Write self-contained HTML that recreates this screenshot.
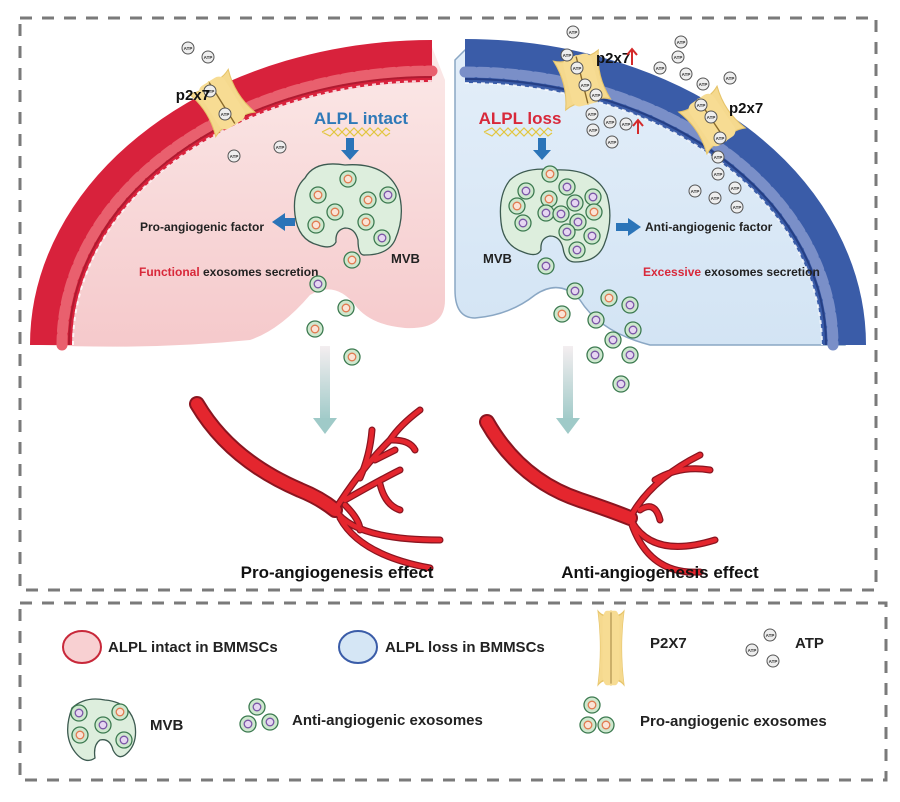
<!DOCTYPE html>
<html><head><meta charset="utf-8"><style>
html,body{margin:0;padding:0;background:#fff}
svg{display:block}
text{font-family:"Liberation Sans",Arial,sans-serif}
</style></head><body>
<svg width="900" height="802" viewBox="0 0 900 802" xmlns="http://www.w3.org/2000/svg">
<defs>
<linearGradient id="pink" x1="0" y1="0" x2="0" y2="1"><stop offset="0" stop-color="#fbe9e8"/><stop offset="1" stop-color="#f5c9cb"/></linearGradient>
<linearGradient id="blue" x1="0" y1="0" x2="0" y2="1"><stop offset="0" stop-color="#e3eef9"/><stop offset="1" stop-color="#d3e4f4"/></linearGradient>
<linearGradient id="arr" x1="0" y1="0" x2="0" y2="1"><stop offset="0" stop-color="#f4eef0"/><stop offset="1" stop-color="#9fcac8"/></linearGradient>
<g id="atp"><circle r="6" fill="#eee" stroke="#555" stroke-width="1"/><text x="0" y="1.8" font-size="4.5" font-weight="bold" text-anchor="middle" fill="#333">ATP</text></g>
<g id="pro"><circle r="8" fill="#cfe8cf" stroke="#3c7a50" stroke-width="1.3"/><circle r="3.8" fill="#fbe3d6" stroke="#e07a50" stroke-width="1.3"/></g>
<g id="anti"><circle r="8" fill="#cfe8cf" stroke="#3c7a50" stroke-width="1.3"/><circle r="3.8" fill="#e6d6f2" stroke="#7a55a5" stroke-width="1.3"/></g>
<g id="ch">
<path d="M-22,-24 Q-10,-18 0,-24 Q10,-18 22,-24 Q14,0 22,24 Q10,18 0,24 Q-10,18 -22,24 Q-14,0 -22,-24Z" fill="#f5d98e" stroke="#e6c46a" stroke-width="1"/>
<rect x="-14" y="-24" width="28" height="48" rx="7" fill="#f7dc93"/>
<line x1="0" y1="-23" x2="0" y2="23" stroke="#8a6a2a" stroke-width="1.3"/>
</g>
</defs>

<rect x="20" y="18" width="856" height="572" fill="none" stroke="#7a7a7a" stroke-width="3" stroke-dasharray="12,10"/>
<rect x="20" y="603" width="866" height="177" fill="none" stroke="#7a7a7a" stroke-width="3" stroke-dasharray="12,10"/>

<path d="M40,345 A400 298 0 0 1 432,47 L445,80 L445,300 Q445,330 405,328 Q370,325 355,305 Q335,280 310,295 Q280,330 250,340 Q150,350 40,345Z" fill="url(#pink)"/>
<path d="M51,345 A381 284 0 0 1 432,61" fill="none" stroke="#d8223c" stroke-width="42"/>
<path d="M62,345 A370 274 0 0 1 432,71" fill="none" stroke="#e9606e" stroke-width="11" stroke-dasharray="9,5" stroke-linecap="round"/>
<path d="M69,345 A363 268 0 0 1 432,77" fill="none" stroke="#b01a30" stroke-width="2"/>
<path d="M73,345 A359 264 0 0 1 432,81" fill="none" stroke="#ffffff" stroke-width="2" stroke-dasharray="4,4" opacity=".8"/>

<path d="M455,60 L465,50 A390 295 0 0 1 845,345 L650,345 Q600,332 580,300 Q560,278 535,295 Q510,315 475,318 Q455,318 455,290Z" fill="url(#blue)" stroke="#8aa7c4" stroke-width="1.5"/>
<path d="M465,61 A379 284 0 0 1 844,345" fill="none" stroke="#3a5ca8" stroke-width="44"/>
<path d="M465,72 A368 273 0 0 1 833,345" fill="none" stroke="#7a8fc8" stroke-width="11" stroke-dasharray="9,5" stroke-linecap="round"/>
<path d="M465,79 A361 266 0 0 1 826,345" fill="none" stroke="#253f85" stroke-width="2"/>
<path d="M465,83 A357 262 0 0 1 822,345" fill="none" stroke="#fff" stroke-width="2" stroke-dasharray="4,4" opacity=".8"/>

<use href="#ch" transform="translate(222,103) rotate(-32) scale(1.05)"/>
<use href="#ch" transform="translate(582,80) rotate(-14) scale(1.05)"/>
<use href="#ch" transform="translate(712,120) rotate(-34) scale(1.05)"/>

<use href="#atp" x="188" y="48"/><use href="#atp" x="208" y="57"/><use href="#atp" x="210" y="91"/><use href="#atp" x="225" y="114"/><use href="#atp" x="234" y="156"/><use href="#atp" x="280" y="147"/>
<use href="#atp" x="573" y="32"/><use href="#atp" x="567" y="55"/><use href="#atp" x="577" y="68"/><use href="#atp" x="585" y="85"/><use href="#atp" x="596" y="95"/><use href="#atp" x="592" y="114"/><use href="#atp" x="610" y="122"/><use href="#atp" x="593" y="130"/><use href="#atp" x="626" y="124"/><use href="#atp" x="612" y="142"/>
<use href="#atp" x="681" y="42"/><use href="#atp" x="678" y="57"/><use href="#atp" x="660" y="68"/><use href="#atp" x="686" y="74"/><use href="#atp" x="703" y="84"/><use href="#atp" x="730" y="78"/><use href="#atp" x="701" y="105"/><use href="#atp" x="711" y="117"/><use href="#atp" x="720" y="138"/><use href="#atp" x="718" y="157"/><use href="#atp" x="718" y="174"/><use href="#atp" x="695" y="191"/><use href="#atp" x="715" y="198"/><use href="#atp" x="735" y="188"/><use href="#atp" x="737" y="207"/>

<text x="210" y="100" font-size="15" font-weight="bold" fill="#111" text-anchor="end">p2x7</text>
<text x="596" y="63" font-size="15" font-weight="bold" fill="#111">p2x7</text>
<text x="729" y="113" font-size="15" font-weight="bold" fill="#111">p2x7</text>
<g stroke="#d42a2a" stroke-width="2" fill="none"><path d="M632,65 V50 M627,55 L632,49 L637,55"/><path d="M638,134 V121 M633,126 L638,120 L643,126"/></g>

<text x="361" y="124" font-size="17" font-weight="bold" fill="#2e79b8" text-anchor="middle">ALPL intact</text>
<path d="M322,132 l8,-4 l8,8 l8,-8 l8,8 l8,-8 l8,8 l8,-8 l8,8 l4,-3 M322,132 l8,4 l8,-8 l8,8 l8,-8 l8,8 l8,-8 l8,8 l8,-8 l4,3" stroke="#e2c640" stroke-width="1.2" fill="none"/>
<path d="M346,138 h8 v12 h5 l-9,10 l-9,-10 h5z" fill="#2b74b8"/>
<text x="520" y="124" font-size="17" font-weight="bold" fill="#d8283a" text-anchor="middle">ALPL loss</text>
<path d="M484,132 l8,-4 l8,8 l8,-8 l8,8 l8,-8 l8,8 l8,-8 l8,8 l4,-3 M484,132 l8,4 l8,-8 l8,8 l8,-8 l8,8 l8,-8 l8,8 l8,-8 l4,3" stroke="#e2c640" stroke-width="1.2" fill="none"/>
<path d="M538,138 h8 v12 h5 l-9,10 l-9,-10 h5z" fill="#2b74b8"/>

<path d="M305,178 Q315,160 345,165 Q385,162 398,190 Q406,215 395,240 Q388,255 365,255 Q358,256 358,240 Q355,228 345,228 Q335,230 336,242 Q332,250 318,245 Q298,240 295,215 Q292,190 305,178Z" fill="#ddeedd" stroke="#3c5a50" stroke-width="1.3"/>
<use href="#pro" x="318" y="195"/><use href="#pro" x="348" y="179"/><use href="#pro" x="335" y="212"/><use href="#pro" x="368" y="200"/><use href="#anti" x="388" y="195"/><use href="#pro" x="316" y="225"/><use href="#pro" x="366" y="222"/><use href="#anti" x="382" y="238"/>
<use href="#pro" x="352" y="260"/>
<path d="M295,218 h-10 v-5 l-13,9 l13,9 v-5 h10z" fill="#2b74b8"/>
<text x="140" y="231" font-size="12" font-weight="bold" fill="#222">Pro-angiogenic factor</text>
<text x="391" y="263" font-size="13" font-weight="bold" fill="#222">MVB</text>
<text x="139" y="276" font-size="12" font-weight="bold" fill="#222"><tspan fill="#d8283a">Functional</tspan> exosomes secretion</text>
<use href="#anti" x="318" y="284"/><use href="#pro" x="346" y="308"/><use href="#pro" x="315" y="329"/><use href="#pro" x="352" y="357"/>

<path d="M510,180 Q525,166 555,170 Q595,168 607,195 Q614,220 604,245 Q597,262 575,262 Q565,262 563,248 Q560,236 550,236 Q540,238 541,250 Q537,258 523,252 Q503,245 501,222 Q498,195 510,180Z" fill="#ddeedd" stroke="#3c5a50" stroke-width="1.3"/>
<use href="#anti" x="526" y="191"/><use href="#pro" x="550" y="174"/><use href="#anti" x="567" y="187"/><use href="#pro" x="549" y="199"/><use href="#anti" x="593" y="197"/><use href="#pro" x="517" y="206"/><use href="#anti" x="575" y="203"/><use href="#anti" x="546" y="213"/><use href="#anti" x="561" y="214"/><use href="#pro" x="594" y="212"/><use href="#anti" x="523" y="223"/><use href="#anti" x="578" y="222"/><use href="#anti" x="567" y="232"/><use href="#anti" x="592" y="236"/><use href="#anti" x="577" y="250"/>
<use href="#anti" x="546" y="266"/>
<path d="M616,223 h12 v-5 l13,9 l-13,9 v-5 h-12z" fill="#2b74b8"/>
<text x="645" y="231" font-size="12" font-weight="bold" fill="#222">Anti-angiogenic factor</text>
<text x="483" y="263" font-size="13" font-weight="bold" fill="#222">MVB</text>
<text x="643" y="276" font-size="12" font-weight="bold" fill="#222"><tspan fill="#d8283a">Excessive</tspan> exosomes secretion</text>
<use href="#anti" x="575" y="291"/><use href="#pro" x="609" y="298"/><use href="#pro" x="562" y="314"/><use href="#anti" x="630" y="305"/><use href="#anti" x="596" y="320"/><use href="#anti" x="633" y="330"/><use href="#anti" x="613" y="340"/><use href="#anti" x="595" y="355"/><use href="#anti" x="630" y="355"/><use href="#anti" x="621" y="384"/>

<rect x="320" y="346" width="10" height="75" fill="url(#arr)"/><path d="M313,418 h24 l-12,16z" fill="#9fcac8"/>
<rect x="563" y="346" width="10" height="75" fill="url(#arr)"/><path d="M556,418 h24 l-12,16z" fill="#9fcac8"/>

<g fill="none" stroke-linecap="round" stroke-linejoin="round">
<g stroke="#8a1520">
<path d="M197,404 Q230,460 300,490 Q320,498 335,510" stroke-width="16"/>
<path d="M335,510 Q360,470 390,440 M360,478 Q370,455 372,430 M375,460 L395,450 M390,440 Q400,425 420,410 M392,440 Q410,440 415,450 M345,500 Q380,480 400,470 M380,484 Q385,505 400,510 M345,505 Q360,520 360,530 M335,510 Q355,540 440,540 M340,518 Q360,555 430,568" stroke-width="7"/>
<path d="M487,422 Q520,480 580,500 Q610,510 630,518" stroke-width="16"/>
<path d="M630,518 Q650,480 700,455 M655,480 Q680,465 710,470 M640,510 Q655,500 660,520 M630,518 Q650,560 715,540 M632,525 Q650,575 700,572" stroke-width="7"/>
</g>
<g stroke="#e4262e">
<path d="M197,404 Q230,460 300,490 Q320,498 335,510" stroke-width="12"/>
<path d="M335,510 Q360,470 390,440 M360,478 Q370,455 372,430 M375,460 L395,450 M390,440 Q400,425 420,410 M392,440 Q410,440 415,450 M345,500 Q380,480 400,470 M380,484 Q385,505 400,510 M345,505 Q360,520 360,530 M335,510 Q355,540 440,540 M340,518 Q360,555 430,568" stroke-width="4.5"/>
<path d="M487,422 Q520,480 580,500 Q610,510 630,518" stroke-width="12"/>
<path d="M630,518 Q650,480 700,455 M655,480 Q680,465 710,470 M640,510 Q655,500 660,520 M630,518 Q650,560 715,540 M632,525 Q650,575 700,572" stroke-width="4.5"/>
</g>
</g>
<text x="337" y="578" font-size="17" font-weight="bold" fill="#111" text-anchor="middle">Pro-angiogenesis effect</text>
<text x="660" y="578" font-size="17" font-weight="bold" fill="#111" text-anchor="middle">Anti-angiogenesis effect</text>

<ellipse cx="82" cy="647" rx="19" ry="16" fill="#f8d0d2" stroke="#c8283a" stroke-width="2"/>
<text x="108" y="652" font-size="15" font-weight="bold" fill="#222">ALPL intact in BMMSCs</text>
<ellipse cx="358" cy="647" rx="19" ry="16" fill="#d5e6f5" stroke="#3a5ca8" stroke-width="2"/>
<text x="385" y="652" font-size="15" font-weight="bold" fill="#222">ALPL loss in BMMSCs</text>
<g transform="translate(611,648) scale(0.6,1.55)"><use href="#ch"/></g>
<text x="650" y="648" font-size="15" font-weight="bold" fill="#222">P2X7</text>
<use href="#atp" x="770" y="635"/><use href="#atp" x="752" y="650"/><use href="#atp" x="773" y="661"/>
<text x="795" y="648" font-size="15" font-weight="bold" fill="#222">ATP</text>
<path d="M72,708 Q85,696 105,700 Q130,702 135,725 Q138,745 125,755 Q118,760 113,750 Q110,738 100,740 Q93,745 95,758 Q85,765 75,752 Q62,735 72,708Z" fill="#ddeedd" stroke="#3c5a50" stroke-width="1.3"/>
<use href="#anti" x="79" y="713"/><use href="#pro" x="120" y="712"/><use href="#anti" x="103" y="725"/><use href="#pro" x="80" y="735"/><use href="#anti" x="124" y="740"/>
<text x="150" y="730" font-size="15" font-weight="bold" fill="#222">MVB</text>
<use href="#anti" x="257" y="707"/><use href="#anti" x="248" y="724"/><use href="#anti" x="270" y="722"/>
<text x="292" y="725" font-size="15" font-weight="bold" fill="#222">Anti-angiogenic exosomes</text>
<use href="#pro" x="592" y="705"/><use href="#pro" x="588" y="725"/><use href="#pro" x="606" y="725"/>
<text x="640" y="726" font-size="15" font-weight="bold" fill="#222">Pro-angiogenic exosomes</text>
</svg>
</body></html>
